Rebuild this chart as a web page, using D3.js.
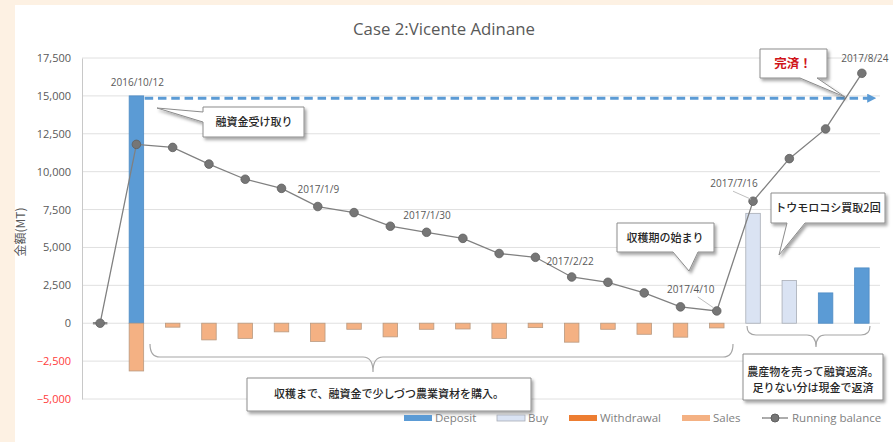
<!DOCTYPE html>
<html>
<head>
<meta charset="utf-8">
<script src="https://cdn.jsdelivr.net/npm/d3@7"></script>
<style>
  html, body { margin: 0; padding: 0; background: #fdf1e3; }
  svg { display: block; }
  .jp { font-family: "Noto Sans CJK JP", sans-serif; }
</style>
</head>
<body>
<div id="chart"></div>
<script>
// one entry per transaction, left to right
const dates = ["", "2016/10/12", "", "", "", "2017/1/9", "", "", "2017/1/30", "", "", "", "2017/2/22",
  "", "", "", "", "2017/4/10", "2017/7/16", "", "", "2017/8/24"];
const deposit = [0, 15000, 0, 0, 0, 0, 0, 0, 0, 0, 0, 0, 0, 0, 0, 0, 0, 0, 0, 0, 2000, 3650];
const buy = [0, 0, 0, 0, 0, 0, 0, 0, 0, 0, 0, 0, 0, 0, 0, 0, 0, 0, 7250, 2820, 0, 0];
const withdrawal = [0, 0, 0, 0, 0, 0, 0, 0, 0, 0, 0, 0, 0, 0, 0, 0, 0, 0, 0, 0, 0, 0];
const sales = [0, -3150, -260, -1100, -1000, -570, -1200, -400, -900, -400, -380, -1000, -290, -1250,
  -400, -730, -920, -310, 0, 0, 0, 0];
const balance = [0, 11800, 11600, 10500, 9500, 8900, 7700, 7300, 6400, 6000, 5600, 4600, 4350, 3050,
  2700, 2000, 1080, 810, 8050, 10860, 12820, 16490];
const loanLine = 14850;
const yTicks = [-5000, -2500, 0, 2500, 5000, 7500, 10000, 12500, 15000, 17500];
const seriesNames = ["Deposit", "Buy", "Withdrawal", "Sales"];
const seriesColors = ["#5b9bd5", "#dae3f3", "#ed7d31", "#f4b183"];

const W = 893, H = 442;
const svg = d3.select("#chart").append("svg").attr("width", W).attr("height", H);

const defs = svg.append("defs");
const sh = defs.append("filter").attr("id", "shadow").attr("x", "-10%").attr("y", "-20%")
  .attr("width", "130%").attr("height", "160%");
sh.append("feDropShadow").attr("dx", 2).attr("dy", 2.5).attr("stdDeviation", 1.5)
  .attr("flood-color", "#000").attr("flood-opacity", 0.35);

svg.append("rect").attr("x", 15).attr("y", 5).attr("width", W - 15).attr("height", H - 5).attr("fill", "#fff");

const x = d3.scaleBand().domain(d3.range(dates.length)).range([82, 880]).paddingInner(0.6).paddingOuter(0.3);
const y = d3.scaleLinear().domain([-5000, 17500]).range([399, 58]);
const cx = i => x(i) + x.bandwidth() / 2;

// title
svg.append("text").attr("x", 444).attr("y", 35).attr("text-anchor", "middle")
  .attr("font-family", "Open Sans, sans-serif").attr("font-size", 16.8).attr("fill", "#595959")
  .text("Case 2:Vicente Adinane");

// grid + y axis
svg.append("g").selectAll("line").data(yTicks).join("line")
  .attr("x1", 82).attr("x2", 880).attr("y1", d => y(d)).attr("y2", d => y(d))
  .attr("stroke", "#e0e0e0").attr("stroke-width", 1);

const yAxis = svg.append("g").attr("transform", "translate(82,0)")
  .call(d3.axisLeft(y).tickValues(yTicks).tickSize(0).tickPadding(11).tickFormat(d3.format(",")));
yAxis.select(".domain").attr("stroke", "#c8c8c8");
yAxis.selectAll("text").attr("font-family", "Open Sans, sans-serif").attr("font-size", 11)
  .attr("fill", d => d < 0 ? "#ff3b3b" : "#595959");

svg.append("text").attr("class", "jp").attr("transform", "translate(25,232) rotate(-90)")
  .attr("text-anchor", "middle").attr("font-size", 12).attr("fill", "#595959").text("金額(MT)");

// bars
const rows = dates.map((d, i) => ({ i, Deposit: deposit[i], Buy: buy[i], Withdrawal: withdrawal[i], Sales: sales[i] }));
const stack = d3.stack().keys(seriesNames).offset(d3.stackOffsetDiverging)(rows);
const strokeCol = { Deposit: "#4f8cc4", Buy: "#a8adb6", Withdrawal: "#c96420", Sales: "#b99a80" };
svg.append("g").selectAll("g").data(stack).join("g")
  .attr("fill", (s, k) => seriesColors[k]).attr("stroke", s => strokeCol[s.key])
  .selectAll("rect").data(s => s.filter(d => d[1] !== d[0])).join("rect")
  .attr("x", d => x(d.data.i)).attr("width", x.bandwidth())
  .attr("y", d => y(Math.max(d[0], d[1]))).attr("height", d => Math.abs(y(d[0]) - y(d[1])))
  .attr("stroke-width", 0.8);

// empty first entry shows as a flat bar outline on the zero line
svg.append("line").attr("x1", x(0)).attr("x2", x(0) + x.bandwidth()).attr("y1", y(0)).attr("y2", y(0))
  .attr("stroke", "#8a8a8a").attr("stroke-width", 2.5);

// loan dashed line with arrow
defs.append("marker").attr("id", "arr").attr("viewBox", "0 0 10 10").attr("refX", 2).attr("refY", 5)
  .attr("markerWidth", 3).attr("markerHeight", 3).attr("orient", "auto")
  .append("path").attr("d", "M0,0L10,5L0,10Z").attr("fill", "#5b9bd5");
svg.append("line").attr("x1", x(1) + x.bandwidth() + 1).attr("x2", 869)
  .attr("y1", y(loanLine)).attr("y2", y(loanLine))
  .attr("stroke", "#5b9bd5").attr("stroke-width", 3).attr("stroke-dasharray", "8.5,4.8")
  .attr("marker-end", "url(#arr)");

// running balance
svg.append("path").datum(balance)
  .attr("d", d3.line().x((d, i) => cx(i)).y(d => y(d)))
  .attr("fill", "none").attr("stroke", "#808080").attr("stroke-width", 1.3);
svg.append("g").selectAll("circle").data(balance).join("circle")
  .attr("cx", (d, i) => cx(i)).attr("cy", d => y(d)).attr("r", 4.3)
  .attr("fill", "#767676").attr("stroke", "#5f5f5f").attr("stroke-width", 0.8);

// date labels (offset from their point)
const labelPos = {
  1: { at: i => [cx(i) + 1, y(deposit[i]) - 10], anchor: "middle" },
  5: { at: i => [cx(i) + 16, y(balance[i]) + 5], anchor: "start" },
  8: { at: i => [cx(i) + 13, y(balance[i]) - 7], anchor: "start" },
  12: { at: i => [cx(i) + 11, y(balance[i]) + 8], anchor: "start" },
  17: { at: i => [cx(i) - 26, y(balance[i]) - 18], anchor: "middle", lead: [-19, -14, -3, -3] },
  18: { at: i => [cx(i) - 19, y(balance[i]) - 14], anchor: "middle", lead: [-20, -10, -2, -2] },
  21: { at: i => [cx(i) + 3, y(balance[i]) - 11], anchor: "middle" }
};
const lab = svg.append("g").attr("font-family", "Open Sans, sans-serif").attr("font-size", 10).attr("fill", "#595959");
Object.keys(labelPos).forEach(k => {
  const i = +k, p = labelPos[k], xy = p.at(i);
  if (p.lead) {
    lab.append("line").attr("x1", cx(i) + p.lead[0]).attr("y1", y(balance[i]) + p.lead[1])
      .attr("x2", cx(i) + p.lead[2]).attr("y2", y(balance[i]) + p.lead[3])
      .attr("stroke", "#bfbfbf").attr("stroke-width", 1);
  }
  lab.append("text").attr("x", xy[0]).attr("y", xy[1]).attr("text-anchor", p.anchor).text(dates[i]);
});

// braces
const braces = svg.append("g").attr("fill", "none").attr("stroke", "#a6a6a6").attr("stroke-width", 1.2);
braces.append("path").attr("d",
  "M150,344 Q150,357 160,357 L363,357 Q373,357 373,372 Q373,357 383,357 L723,357 Q733,357 733,344");
braces.append("path").attr("d",
  "M747,326 Q747,335 756,335 L807,335 Q816,335 816,347 Q816,335 825,335 L861,335 Q870,335 870,326");

// callouts
const callouts = [
  { d: "M203,107H304V137H203V122L157,108L203,112Z", lines: ["融資金受け取り"], tx: 254, ty: [126] },
  { d: "M760,49H827V78H817L845,97L800,78H760Z", lines: ["完済！"], tx: 793, ty: [68], red: true },
  { d: "M617,223H714V252H698L689,271L673,252H617Z", lines: ["収穫期の始まり"], tx: 665, ty: [242] },
  { d: "M771,193H885V223H805L779,255L787,223H771Z", lines: ["トウモロコシ買取2回"], tx: 828, ty: [212] },
  { d: "M247,378H531V411H247Z", lines: ["収穫まで、融資金で少しづつ農業資材を購入。"], tx: 389, ty: [398] },
  { d: "M743,354H883V400H743Z", lines: ["農産物を売って融資返済。", "足りない分は現金で返済"], tx: 813, ty: [376, 392] }
];
const cg = svg.append("g");
callouts.forEach(c => {
  cg.append("path").attr("d", c.d).attr("fill", "#fff").attr("stroke", "#8c8c8c")
    .attr("stroke-width", 1).attr("filter", "url(#shadow)");
  c.lines.forEach((t, j) => {
    cg.append("text").attr("class", "jp").attr("x", c.tx).attr("y", c.ty[j]).attr("text-anchor", "middle")
      .attr("font-size", c.red ? 12.5 : 11).attr("font-weight", c.red ? 700 : 500)
      .attr("fill", c.red ? "#d0141a" : "#262626").text(t);
  });
});

// legend
const legendX = [404, 497, 569, 682];
const leg = svg.append("g").attr("font-family", "Open Sans, sans-serif").attr("font-size", 11.5).attr("fill", "#7f7f7f");
seriesNames.forEach((n, k) => {
  leg.append("rect").attr("x", legendX[k]).attr("y", 415).attr("width", 28).attr("height", 6)
    .attr("fill", seriesColors[k]).attr("stroke", k === 1 ? "#a8adb6" : "none").attr("stroke-width", 0.8);
  leg.append("text").attr("x", legendX[k] + 31).attr("y", 422).text(n);
});
leg.append("line").attr("x1", 762).attr("x2", 788).attr("y1", 418).attr("y2", 418)
  .attr("stroke", "#808080").attr("stroke-width", 1.3);
leg.append("circle").attr("cx", 775).attr("cy", 418).attr("r", 4).attr("fill", "#767676").attr("stroke", "#5f5f5f");
leg.append("text").attr("x", 792).attr("y", 422).text("Running balance");
</script>
</body>
</html>
